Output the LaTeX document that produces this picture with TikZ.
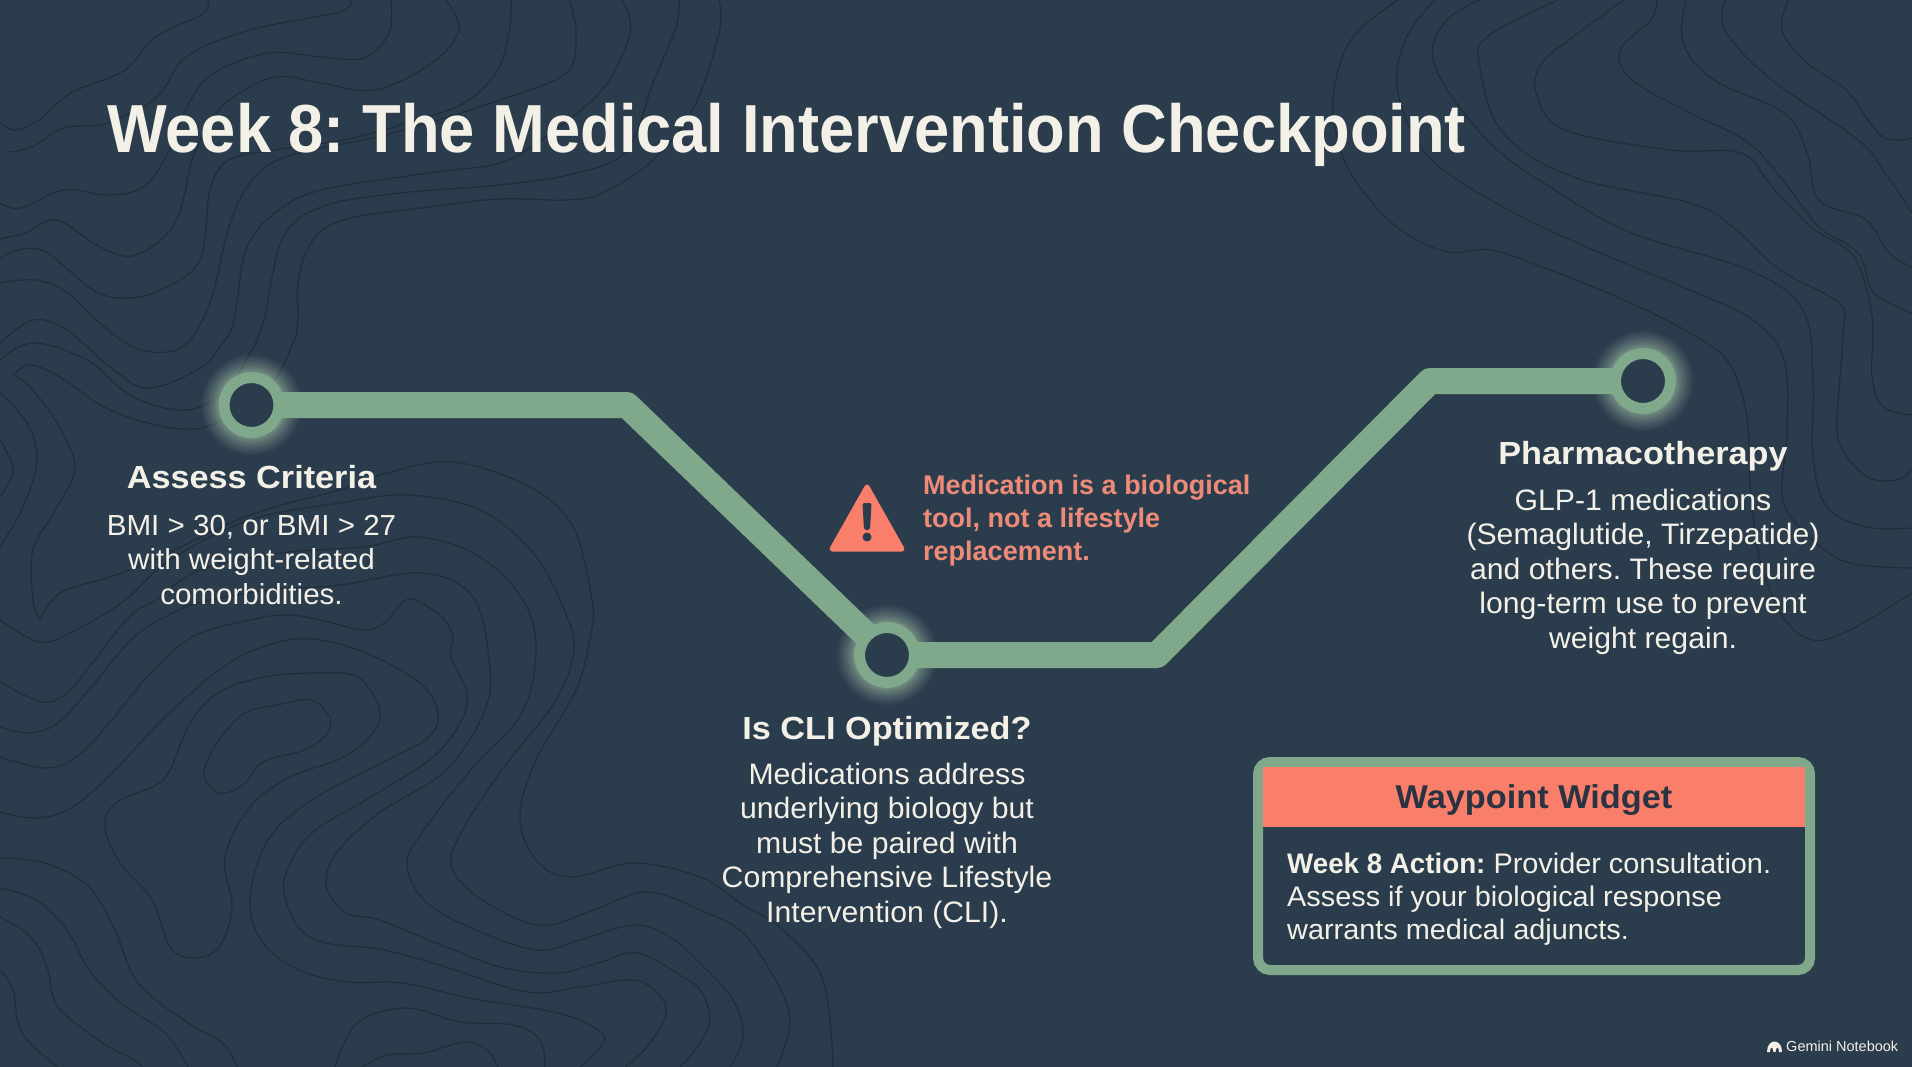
\documentclass[tikz,border=0pt]{standalone}
\usepackage{fontspec}
\setmainfont{Liberation Sans}
\newfontfamily\ftitle[FakeStretch=0.93]{Liberation Sans}
\newfontfamily\fhead[FakeStretch=1.07]{Liberation Sans}
\newfontfamily\fbody[FakeStretch=1.02]{Liberation Sans}
\newfontfamily\fwid[FakeStretch=1.04]{Liberation Sans}
\newfontfamily\fwbody[FakeStretch=1.02]{Liberation Sans}
\newfontfamily\fwbold[FakeStretch=0.98]{Liberation Sans}
\pgfdeclarelayer{under}
\pgfsetlayers{under,main}
\definecolor{bgc}{HTML}{2B3C4D}
\definecolor{contourc}{HTML}{212E3A}
\definecolor{greenc}{HTML}{7FA98A}
\definecolor{coralc}{HTML}{FA7F6A}
\definecolor{warnc}{HTML}{EE8B78}
\definecolor{textc}{HTML}{F3F1E7}
\definecolor{glowc}{HTML}{C8E6C4}
\definecolor{darktextc}{HTML}{2A3342}
\newcommand{\fs}[2]{\fontsize{#1}{#2}\selectfont}
\tikzset{
  contour/.style={draw=contourc,line width=1.2pt,smooth,tension=0.6},
  track/.style={draw=greenc,line width=26pt,line join=round},
  waypoint/.style={circle,draw=greenc,line width=11pt,fill=bgc,minimum size=55pt,inner sep=0pt,outer sep=0pt},
  glow/.style={fill=glowc,opacity=0.04},
  headtext/.style={anchor=base,text=textc,inner sep=0pt,font=\fhead\fs{32}{38}\bfseries},
  bodytext/.style={anchor=base,align=center,text=textc,inner sep=0pt,font=\fbody\fs{29.6}{34.5}},
  warntext/.style={anchor=base west,align=left,text=warnc,inner sep=0pt,font=\fs{27}{33}\bfseries},
  widgetbox/.style={rectangle,rounded corners=12pt,draw=greenc,line width=10pt,fill=bgc,minimum width=552pt,minimum height=208pt,inner sep=0pt},
  headbar/.style={rectangle,fill=coralc,minimum width=542pt,minimum height=60pt,inner sep=0pt},
}
\begin{document}
\frenchspacing
\begin{tikzpicture}[x=1pt,y=-1pt]
\useasboundingbox (0,0) rectangle (1912,1067);
% waypoints
\node[waypoint] (n1) at (251.5,405) {};
\node[waypoint] (n2) at (887,655) {};
\node[waypoint] (n3) at (1643,381) {};
\coordinate (b1) at (627,405);
\coordinate (b2) at (1157,655);
\coordinate (b3) at (1430,381);
\begin{pgfonlayer}{under}
\fill[bgc] (0,0) rectangle (1912,1067);
\clip (0,0) rectangle (1912,1067);
\draw[contour] plot coordinates {(207,0)(204,13)(154,38)(125,70)(71,93)(39,120)(14,130)(0,122)};
\draw[contour] plot coordinates {(350,0)(339,12)(250,30)(186,57)(157,97)(107,123)(64,128)(32,147)(9,152)};
\draw[contour] plot coordinates {(391,0)(389,33)(364,58)(321,57)(268,53)(214,73)(189,103)(168,153)(143,187)(107,195)(64,190)(21,208)(0,203)};
\draw[contour] plot coordinates {(446,0)(459,30)(432,63)(375,90)(321,83)(275,77)(229,100)(211,123)(193,157)(175,223)(136,255)(100,247)(57,220)(25,233)(0,239)};
\draw[contour] plot coordinates {(511,0)(509,33)(496,73)(464,103)(411,122)(343,140)(275,150)(229,160)(210,190)(200,260)(161,290)(125,298)(93,290)(46,252)(18,250)(0,258)};
\draw[contour] plot coordinates {(569,0)(576,33)(566,73)(500,100)(393,133)(286,157)(250,183)(229,227)(211,300)(190,340)(167,352)(133,347)(96,320)(68,293)(36,280)(0,283)};
\draw[contour] plot coordinates {(622,0)(630,33)(602,90)(541,140)(500,163)(429,173)(321,190)(275,213)(246,250)(234,320)(220,347)(197,370)(147,388)(110,367)(67,330)(33,320)(0,343)};
\draw[contour] plot coordinates {(679,0)(676,27)(653,83)(627,150)(577,173)(500,185)(400,193)(321,207)(282,240)(264,320)(248,357)(225,390)(187,410)(133,397)(87,360)(33,343)(0,360)};
\draw[contour] plot coordinates {(719,0)(719,33)(694,107)(653,160)(602,193)(566,200)(500,199)(429,207)(343,220)(311,243)(298,283)(298,320)(293,343)(270,385)(217,423)(173,428)(110,410)(60,377)(30,365)(13,375)};
\draw[contour] plot coordinates {(13,375)(30,387)(57,423)(75,467)(57,507)(33,550)(33,600)(40,620)};
\draw[contour] plot coordinates {(0,393)(27,423)(37,460)(23,507)(0,547)};
\draw[contour] plot coordinates {(0,440)(13,470)(0,497)};
% central blob family
\draw[contour] plot coordinates {(330,717)(312,700)(277,705)(245,713)(219,740)(204,773)(219,793)(243,785)(263,762)(304,750)(328,733)(330,717)};
\draw[contour] plot coordinates {(344,673)(277,675)(223,690)(192,720)(170,770)(156,785)(116,803)(105,827)(120,863)(152,900)(170,947)(194,958)(219,947)(232,907)(225,857)(250,807)(290,777)(344,757)(375,730)(379,707)(362,680)(344,673)};
\draw[contour] plot coordinates {(0,812)(36,818)(71,808)(112,773)(165,717)(223,667)(268,645)(312,639)(366,653)(420,683)(438,713)(429,737)(393,757)(312,800)(268,840)(250,900)(263,943)(299,970)(348,982)(402,983)(469,998)(558,1013)(598,1030)(603,1043)(580,1067)};
\draw[contour] plot coordinates {(0,757)(45,768)(76,757)(112,720)(147,677)(192,637)(250,620)(286,615)(321,620)(362,630)(384,623)(402,603)(415,600)(442,617)(453,637)(451,657)(467,693)(460,723)(433,757)(371,797)(312,833)(286,873)(286,900)(299,928)(326,943)(384,950)(446,967)(527,992)(580,987)(634,980)(661,997)(665,1017)(647,1047)(625,1067)};
\draw[contour] plot coordinates {(0,727)(29,733)(58,723)(89,690)(134,637)(179,610)(210,600)(270,590)(340,585)(423,573)(473,597)(489,660)(485,710)(446,770)(379,813)(339,850)(326,883)(344,912)(379,920)(446,947)(504,968)(558,973)(598,963)(638,953)(683,977)(700,990)(710,1017)(700,1043)(680,1067)};
\draw[contour] plot coordinates {(0,682)(42,702)(67,693)(89,667)(129,617)(156,600)(200,570)(280,553)(363,547)(420,537)(480,557)(523,600)(536,650)(522,713)(473,767)(424,830)(407,863)(424,900)(469,927)(536,950)(580,940)(634,925)(670,937)(700,963)(733,1000)(743,1037)(730,1067)};
\draw[contour] plot coordinates {(0,620)(40,642)(76,630)(125,600)(170,560)(250,520)(340,503)(407,495)(480,510)(533,553)(563,607)(574,650)(554,703)(504,767)(464,827)(451,863)(469,890)(513,917)(549,925)(594,910)(647,892)(700,910)(743,933)(777,983)(790,1023)(777,1067)};
\draw[contour] plot coordinates {(40,620)(60,593)(110,577)(147,563)(250,515)(340,490)(387,473)(453,462)(530,487)(573,527)(592,600)(591,633)(576,690)(536,760)(520,817)(536,860)(571,877)(634,863)(700,877)(740,903)(783,930)(823,980)(833,1067)};
% lower left
\draw[contour] plot coordinates {(0,858)(45,863)(89,887)(116,933)(138,983)(188,1023)(223,1043)(237,1067)};
\draw[contour] plot coordinates {(0,888)(36,900)(67,930)(89,970)(121,1003)(165,1033)(188,1067)};
\draw[contour] plot coordinates {(0,917)(31,937)(47,967)(58,1007)(103,1043)(129,1057)(143,1067)};
\draw[contour] plot coordinates {(0,970)(13,990)(22,1033)(58,1067)};
\draw[contour] plot coordinates {(335,1067)(357,1023)(406,1008)(460,1022)(513,1025)(540,1040)(545,1067)};
\draw[contour] plot coordinates {(362,1067)(388,1055)(424,1053)(464,1042)(487,1050)(498,1067)};
% right side
\draw[contour] plot coordinates {(1398,0)(1351,40)(1333,100)(1343,157)(1370,200)(1405,233)(1448,252)(1491,250)(1542,267)(1624,300)(1690,333)(1729,363)(1747,417)(1750,483)(1760,560)(1783,617)(1813,640)(1850,630)(1912,593)};
\draw[contour] plot coordinates {(1435,0)(1405,40)(1398,93)(1429,157)(1503,207)(1593,250)(1690,290)(1753,320)(1784,360)(1787,433)(1783,500)(1813,540)(1850,563)(1912,568)};
\draw[contour] plot coordinates {(1480,0)(1444,23)(1435,67)(1487,140)(1550,187)(1632,233)(1749,270)(1803,310)(1813,380)(1813,457)(1827,507)(1867,527)(1912,528)};
\draw[contour] plot coordinates {(1558,0)(1487,37)(1480,67)(1503,133)(1573,177)(1690,203)(1733,227)(1780,270)(1839,303)(1843,333)(1837,423)(1843,450)(1867,477)(1897,480)(1912,470)};
\draw[contour] plot coordinates {(1624,0)(1573,37)(1542,63)(1536,93)(1565,130)(1671,150)(1741,153)(1772,187)(1811,227)(1854,257)(1872,317)(1872,377)(1883,407)(1912,415)};
\draw[contour] plot coordinates {(1657,0)(1651,20)(1620,50)(1632,80)(1690,113)(1749,143)(1788,187)(1819,227)(1858,253)(1874,293)(1912,313)};
\draw[contour] plot coordinates {(1686,0)(1683,43)(1714,80)(1784,113)(1807,153)(1819,200)(1866,220)(1889,253)(1912,267)};
\draw[contour] plot coordinates {(1725,0)(1725,30)(1768,77)(1858,140)(1885,173)(1912,213)};
\draw[contour] plot coordinates {(1788,0)(1782,30)(1807,63)(1846,90)(1878,133)(1897,140)(1912,138)};
% glows
\foreach \c in {n1,n2,n3}{\foreach \r in {34,34.6,35.2,35.9,36.7,37.5,38.4,39.4,40.4,41.5,42.7,44,45.4,46.9,48.5,50.2}{\fill[glow] (\c.center) circle (\r);}}
% track
\draw[track] (n1.center) -- (b1) -- (n2.center) -- (b2) -- (b3) -- (n3.center);
\end{pgfonlayer}
% title
\node[anchor=base west,inner sep=0pt,text=textc,font=\ftitle\fs{68}{80}\bfseries] (title) at (107,153) {Week 8: The Medical Intervention Checkpoint};
% labels
\node[headtext] (h1) at (251.5,488) {Assess Criteria};
\node[bodytext,font=\fbody\fs{29}{34.5}] (t1) at (251.5,604) {BMI > 30, or BMI > 27\\with weight-related\\comorbidities.};
\node[headtext] (h2) at (887,739) {Is CLI Optimized?};
\node[bodytext] (t2) at (887,922) {Medications address\\underlying biology but\\must be paired with\\Comprehensive Lifestyle\\Intervention (CLI).};
\node[headtext] (h3) at (1643,464) {Pharmacotherapy};
\node[bodytext] (t3) at (1643,648) {GLP-1 medications\\(Semaglutide, Tirzepatide)\\and others. These require\\long-term use to prevent\\weight regain.};
% warning
\fill[coralc,draw=coralc,line width=5pt,line join=round] (867,487) -- (902,549) -- (832,549) -- cycle;
\fill[bgc,rounded corners=2pt] (862.5,503) -- (871.5,503) -- (870,530) -- (864,530) -- cycle;
\fill[bgc] (867,537) circle (4.5);
\node[warntext] (warn) at (923,560) {Medication is a biological\\tool, not a lifestyle\\replacement.};
% widget
\node[widgetbox] (wbox) at (1534,866) {};
\node[headbar] (whead) at (1534,797) {};
\node[anchor=base,inner sep=0pt,text=darktextc,font=\fwid\fs{33}{38}\bfseries] (wtitle) at (1534,808) {Waypoint Widget};
\node[anchor=base west,align=left,inner sep=0pt,text=textc,font=\fwbody\fs{28.3}{33}] (wbody) at (1287,939) {{\fwbold\bfseries Week 8 Action:} Provider consultation.\\Assess if your biological response\\warrants medical adjuncts.};
% logo
\fill[textc] (1767,1052) .. controls (1767,1038) and (1782,1038) .. (1782,1052) -- (1779,1052) .. controls (1779,1046) and (1776,1046) .. (1775.5,1052) -- (1773.5,1052) .. controls (1773,1046) and (1770,1046) .. (1770,1052) -- cycle;
\node[anchor=base west,inner sep=0pt,text=textc,font=\fs{14.5}{17}] (logo) at (1786,1051) {Gemini Notebook};
\end{tikzpicture}
\end{document}
